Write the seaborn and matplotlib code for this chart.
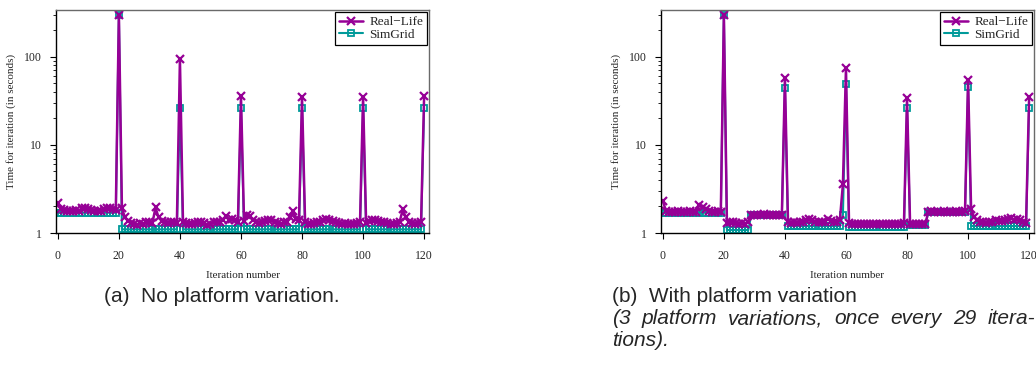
import numpy as np
import pandas as pd
import matplotlib
matplotlib.use("Agg")
import matplotlib.pyplot as plt
import seaborn as sns
from matplotlib.ticker import LogLocator, NullFormatter

# ---------------- data ----------------
iterations = list(range(0, 121))

real_a = [
    2.2, 1.85, 1.82, 1.8, 1.78, 1.8, 1.83, 1.8, 1.92, 1.9,
    1.86, 1.82, 1.8, 1.76, 1.8, 1.88, 1.92, 1.9, 1.86, 1.84,
    300, 1.9, 1.5, 1.38, 1.3, 1.25, 1.22, 1.3, 1.28, 1.32,
    1.35, 1.3, 1.95, 1.5, 1.38, 1.32, 1.3, 1.35, 1.33, 1.3,
    94, 1.35, 1.3, 1.28, 1.25, 1.3, 1.32, 1.35, 1.3, 1.22,
    1.25, 1.33, 1.35, 1.32, 1.4, 1.55, 1.42, 1.45, 1.4, 1.35,
    36, 1.38, 1.6, 1.55, 1.4, 1.35, 1.3, 1.32, 1.38, 1.42,
    1.4, 1.35, 1.3, 1.28, 1.32, 1.35, 1.5, 1.8, 1.45, 1.4,
    35, 1.35, 1.25, 1.28, 1.3, 1.32, 1.35, 1.4, 1.45, 1.42,
    1.38, 1.35, 1.3, 1.28, 1.3, 1.27, 1.25, 1.28, 1.3, 1.32,
    35, 1.3, 1.38, 1.42, 1.4, 1.38, 1.35, 1.33, 1.3, 1.28,
    1.27, 1.3, 1.35, 1.85, 1.5, 1.35, 1.3, 1.28, 1.3, 1.32,
    36,
]

sim_a = [
    1.7, 1.7, 1.7, 1.7, 1.7, 1.7, 1.7, 1.7, 1.7, 1.7,
    1.7, 1.7, 1.7, 1.7, 1.7, 1.7, 1.7, 1.7, 1.7, 1.7,
    300, 1.1, 1.1, 1.1, 1.1, 1.1, 1.1, 1.1, 1.1, 1.1,
    1.1, 1.1, 1.1, 1.1, 1.1, 1.1, 1.1, 1.1, 1.1, 1.1,
    26, 1.1, 1.1, 1.1, 1.1, 1.1, 1.1, 1.1, 1.1, 1.1,
    1.1, 1.1, 1.1, 1.1, 1.1, 1.1, 1.1, 1.1, 1.1, 1.1,
    26, 1.1, 1.1, 1.1, 1.1, 1.1, 1.1, 1.1, 1.1, 1.1,
    1.1, 1.1, 1.1, 1.1, 1.1, 1.1, 1.1, 1.1, 1.1, 1.1,
    26, 1.1, 1.1, 1.1, 1.1, 1.1, 1.1, 1.1, 1.1, 1.1,
    1.1, 1.1, 1.1, 1.1, 1.1, 1.1, 1.1, 1.1, 1.1, 1.1,
    26, 1.1, 1.1, 1.1, 1.1, 1.1, 1.1, 1.1, 1.1, 1.1,
    1.1, 1.1, 1.1, 1.1, 1.1, 1.1, 1.1, 1.1, 1.1, 1.1,
    26,
]

real_b = [
    2.3, 1.8, 1.75, 1.72, 1.75, 1.78, 1.75, 1.72, 1.74, 1.76,
    1.75, 1.73, 2.1, 1.95, 1.85, 1.8, 1.75, 1.74, 1.76, 1.75,
    300, 1.3, 1.35, 1.32, 1.3, 1.28, 1.3, 1.27, 1.35, 1.6,
    1.62, 1.6, 1.62, 1.63, 1.6, 1.62, 1.61, 1.62, 1.6, 1.62,
    58, 1.35, 1.3, 1.32, 1.3, 1.33, 1.35, 1.4, 1.44, 1.42,
    1.35, 1.33, 1.32, 1.35, 1.44, 1.38, 1.33, 1.35, 1.4, 3.6,
    74, 1.3, 1.27, 1.28, 1.27, 1.26, 1.27, 1.28, 1.27, 1.26,
    1.27, 1.28, 1.27, 1.26, 1.27, 1.28, 1.27, 1.26, 1.27, 1.3,
    34, 1.28, 1.27, 1.26, 1.27, 1.28, 1.27, 1.75, 1.76, 1.75,
    1.74, 1.75, 1.76, 1.75, 1.74, 1.75, 1.76, 1.75, 1.74, 1.8,
    54, 1.85, 1.5, 1.4, 1.35, 1.32, 1.3, 1.33, 1.35, 1.4,
    1.38, 1.36, 1.4, 1.45, 1.48, 1.42, 1.45, 1.4, 1.35, 1.3,
    35,
]

sim_b = [
    1.7, 1.7, 1.7, 1.7, 1.7, 1.7, 1.7, 1.7, 1.7, 1.7,
    1.7, 1.7, 1.7, 1.7, 1.7, 1.7, 1.7, 1.7, 1.7, 1.7,
    300, 1.08, 1.08, 1.08, 1.08, 1.08, 1.08, 1.08, 1.08, 1.62,
    1.62, 1.62, 1.62, 1.62, 1.62, 1.62, 1.62, 1.62, 1.62, 1.62,
    44, 1.2, 1.2, 1.2, 1.2, 1.2, 1.2, 1.2, 1.2, 1.2,
    1.2, 1.2, 1.2, 1.2, 1.2, 1.2, 1.2, 1.2, 1.2, 1.62,
    49, 1.18, 1.18, 1.18, 1.18, 1.18, 1.18, 1.18, 1.18, 1.18,
    1.18, 1.18, 1.18, 1.18, 1.18, 1.18, 1.18, 1.18, 1.18, 1.18,
    26, 1.22, 1.22, 1.22, 1.22, 1.22, 1.22, 1.75, 1.75, 1.75,
    1.75, 1.75, 1.75, 1.75, 1.75, 1.75, 1.75, 1.75, 1.75, 1.75,
    46, 1.2, 1.2, 1.2, 1.2, 1.2, 1.2, 1.2, 1.2, 1.2,
    1.2, 1.2, 1.2, 1.2, 1.2, 1.2, 1.2, 1.2, 1.2, 1.2,
    26,
]

x_ticks = [0, 20, 40, 60, 80, 100, 120]
y_ticks = [1, 10, 100]
y_tick_labels = ["1", "10", "100"]
series_names = ["Real\u2212Life", "SimGrid"]
x_label = "Iteration number"
y_label = "Time for iteration (in seconds)"
caption_a = "(a)  No platform variation."
caption_b1 = "(b)  With platform variation"
caption_b2 = "(3 platform variations, once every 29 itera-"
caption_b3 = "tions)."

# ---------------- style ----------------
sns.set_style("ticks")
plt.rcParams["font.family"] = ["Liberation Serif", "DejaVu Serif"]

PURPLE = "#960096"
TEAL = "#009a9a"
W, H = 1036, 366

fig = plt.figure(figsize=(W / 100, H / 100), dpi=100)
ax_a = fig.add_axes([56 / W, 1 - 233 / H, (429 - 56) / W, 223 / H])
ax_b = fig.add_axes([661 / W, 1 - 233 / H, (1034 - 661) / W, 223 / H])


def draw(ax, real, sim):
    df = pd.DataFrame({"iteration": iterations, "real": real, "sim": sim})
    sns.lineplot(data=df, x="iteration", y="sim", ax=ax, color=TEAL,
                 marker="s", markersize=5, markerfacecolor="none",
                 markeredgecolor=TEAL, markeredgewidth=1.3, linewidth=1.5,
                 label=series_names[1])
    sns.lineplot(data=df, x="iteration", y="real", ax=ax, color=PURPLE,
                 marker="x", markersize=5.5, markeredgecolor=PURPLE,
                 markeredgewidth=1.6, linewidth=1.8,
                 label=series_names[0])
    ax.set_yscale("log")
    ax.set_ylim(1, 340)
    ax.set_xlim(-0.6, 121.6)
    ax.set_xticks(x_ticks)
    ax.set_xticklabels([str(t) for t in x_ticks], fontsize=8.5)
    ax.set_yticks(y_ticks)
    ax.set_yticklabels(y_tick_labels, fontsize=8.5)
    ax.yaxis.set_minor_locator(LogLocator(base=10, subs=np.arange(2, 10)))
    ax.yaxis.set_minor_formatter(NullFormatter())
    ax.tick_params(axis="both", which="major", direction="out", length=4,
                   width=0.8, color="black")
    ax.tick_params(axis="x", which="major", pad=8)
    ax.tick_params(axis="y", which="major", pad=6)
    ax.tick_params(axis="y", which="minor", direction="out", length=2.5,
                   width=0.6, color="black")
    ax.tick_params(axis="x", which="minor", length=0)
    ax.set_xlabel(x_label, fontsize=8, labelpad=7)
    ax.set_ylabel(y_label, fontsize=8, labelpad=6)
    for side in ["left", "bottom"]:
        ax.spines[side].set_color("black")
        ax.spines[side].set_linewidth(1.0)
    for side in ["top", "right"]:
        ax.spines[side].set_color("#6a6a6a")
        ax.spines[side].set_linewidth(1.0)
    ax.grid(False)
    handles, labels = ax.get_legend_handles_labels()
    order = [labels.index(series_names[0]), labels.index(series_names[1])]
    leg = ax.legend([handles[i] for i in order], [labels[i] for i in order],
                    loc="upper right", fontsize=9.5, frameon=True,
                    fancybox=False, edgecolor="black", framealpha=1,
                    borderaxespad=0.15, handlelength=1.8, labelspacing=0.05,
                    borderpad=0.3, handletextpad=0.5)
    leg.get_frame().set_linewidth(0.9)


draw(ax_a, real_a, sim_a)
draw(ax_b, real_b, sim_b)

cap_font = ["Liberation Sans", "DejaVu Sans"]
CAP_SIZE = 15
fig.text(104 / W, 1 - 296 / H, caption_a, fontsize=CAP_SIZE,
         family=cap_font, va="center", ha="left")
fig.text(612 / W, 1 - 296 / H, caption_b1, fontsize=CAP_SIZE,
         family=cap_font, va="center", ha="left")
fig.text(612 / W, 1 - 341 / H, caption_b3, fontsize=CAP_SIZE,
         family=cap_font, style="italic", va="center", ha="left")

# justified second line of caption (b)
renderer = fig.canvas.get_renderer()
words = caption_b2.split(" ")
texts = []
widths = []
for w_ in words:
    t = fig.text(0, 1 - 319 / H, w_, fontsize=CAP_SIZE, family=cap_font,
                 style="italic", va="center", ha="left")
    texts.append(t)
    widths.append(t.get_window_extent(renderer).width)
left_px, right_px = 612, 1035
gap = (right_px - left_px - sum(widths)) / (len(words) - 1)
pos = left_px
for t, wd in zip(texts, widths):
    t.set_x(pos / W)
    pos += wd + gap

fig.savefig("out.png", dpi=100)
